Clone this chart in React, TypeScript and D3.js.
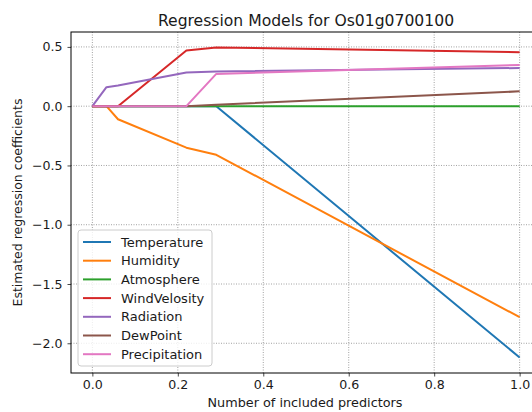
import { useEffect, useRef } from 'react';
import * as d3 from 'd3';

// share of included predictors (x positions of the path knots)
const steps = [0, 0.033, 0.06, 0.22, 0.29, 1.0];

const temperature = [0, 0, 0, 0, 0, -2.12];
const humidity = [0, 0, -0.11, -0.35, -0.41, -1.78];
const atmosphere = [0, 0, 0, 0, 0, 0];
const windVelosity = [0, 0, 0, 0.47, 0.495, 0.455];
const radiation = [0, 0.16, 0.175, 0.285, 0.292, 0.322];
const dewPoint = [0, 0, 0, 0, 0.012, 0.125];
const precipitation = [0, 0, 0, 0, 0.272, 0.348];

const seriesNames = ['Temperature', 'Humidity', 'Atmosphere', 'WindVelosity', 'Radiation', 'DewPoint', 'Precipitation'];
const seriesValues = [temperature, humidity, atmosphere, windVelosity, radiation, dewPoint, precipitation];
const colors = ['#1f77b4', '#ff7f0e', '#2ca02c', '#d62728', '#9467bd', '#8c564b', '#e377c2'];

const xTicks = [0, 0.2, 0.4, 0.6, 0.8, 1.0];
const yTicks = [0.5, 0, -0.5, -1.0, -1.5, -2.0];

const App = () => {
    const svgRef = useRef<SVGSVGElement>(null);

    useEffect(() => {
        const width = 532;
        const height = 412;
        const margin = { top: 32, left: 71 };
        const plotW = 470;
        const plotH = 341;

        const svg = d3.select(svgRef.current);
        svg.selectAll('*').remove();

        const font = 'DejaVu Sans, sans-serif';
        const textColor = '#1a1a1a';

        // ====== SCALES ======
        const x = d3.scaleLinear().domain([-0.05, 1.05]).range([margin.left, margin.left + plotW]);

        const allVals = seriesValues.flat();
        const yMin = d3.min(allVals) as number;
        const yMax = d3.max(allVals) as number;
        const pad = (yMax - yMin) * 0.05;
        const y = d3.scaleLinear().domain([yMin - pad, yMax + pad]).range([margin.top + plotH, margin.top]);

        // ====== GRID ======
        const grid = svg.append('g');
        grid.selectAll('.gx')
            .data(xTicks)
            .enter()
            .append('line')
            .attr('x1', (d) => x(d))
            .attr('x2', (d) => x(d))
            .attr('y1', margin.top)
            .attr('y2', margin.top + plotH)
            .attr('stroke', '#8a8a8a')
            .attr('stroke-width', 0.8)
            .attr('stroke-dasharray', '1,1.5');
        grid.selectAll('.gy')
            .data(yTicks)
            .enter()
            .append('line')
            .attr('x1', margin.left)
            .attr('x2', margin.left + plotW)
            .attr('y1', (d) => y(d))
            .attr('y2', (d) => y(d))
            .attr('stroke', '#8a8a8a')
            .attr('stroke-width', 0.8)
            .attr('stroke-dasharray', '1,1.5');

        // ====== LINES ======
        const line = d3
            .line<number>()
            .x((_, i) => x(steps[i]))
            .y((d) => y(d));

        svg.selectAll('.series')
            .data(seriesValues)
            .enter()
            .append('path')
            .attr('d', (d) => line(d))
            .attr('fill', 'none')
            .attr('stroke', (_, i) => colors[i])
            .attr('stroke-width', 2)
            .attr('stroke-linejoin', 'round');

        // ====== AXES ======
        const fmt = (d: number) => d3.format('.1f')(d).replace('-', '\u2212');

        const xAxis = svg.append('g')
            .attr('transform', `translate(0,${margin.top + plotH})`)
            .call(d3.axisBottom(x).tickValues(xTicks).tickFormat((d) => fmt(d as number)).tickSize(3.5).tickPadding(4));
        const yAxis = svg.append('g')
            .attr('transform', `translate(${margin.left},0)`)
            .call(d3.axisLeft(y).tickValues(yTicks).tickFormat((d) => fmt(d as number)).tickSize(3.5).tickPadding(5));

        [xAxis, yAxis].forEach((ax) => {
            ax.select('.domain').remove();
            ax.selectAll('line').attr('stroke', textColor).attr('stroke-width', 0.8);
            ax.selectAll('text').attr('font-family', font).attr('font-size', 12.6).attr('fill', textColor);
        });

        // frame
        svg.append('rect')
            .attr('x', margin.left)
            .attr('y', margin.top)
            .attr('width', plotW)
            .attr('height', plotH)
            .attr('fill', 'none')
            .attr('stroke', '#000')
            .attr('stroke-width', 1);

        // ====== TEXT ======
        svg.append('text')
            .attr('x', 306)
            .attr('y', 25.5)
            .attr('text-anchor', 'middle')
            .attr('font-family', font)
            .attr('font-size', 15.6)
            .attr('fill', textColor)
            .text('Regression Models for Os01g0700100');

        svg.append('text')
            .attr('x', 305)
            .attr('y', 407)
            .attr('text-anchor', 'middle')
            .attr('font-family', font)
            .attr('font-size', 12.8)
            .attr('fill', textColor)
            .text('Number of included predictors');

        svg.append('text')
            .attr('transform', `translate(22,${margin.top + plotH / 2}) rotate(-90)`)
            .attr('text-anchor', 'middle')
            .attr('font-family', font)
            .attr('font-size', 12.5)
            .attr('fill', textColor)
            .text('Estimated regression coefficients');

        // ====== LEGEND ======
        const legend = svg.append('g').attr('transform', 'translate(78,230)');
        legend.append('rect')
            .attr('width', 134)
            .attr('height', 136)
            .attr('rx', 3)
            .attr('fill', 'rgba(255,255,255,0.8)')
            .attr('stroke', '#cccccc');

        const rows = legend.selectAll('.row')
            .data(seriesNames)
            .enter()
            .append('g')
            .attr('transform', (_, i) => `translate(0,${12 + i * 18.7})`);
        rows.append('line')
            .attr('x1', 5)
            .attr('x2', 33)
            .attr('stroke', (_, i) => colors[i])
            .attr('stroke-width', 2);
        rows.append('text')
            .attr('x', 43)
            .attr('y', 4.6)
            .attr('font-family', font)
            .attr('font-size', 13)
            .attr('fill', textColor)
            .text((d) => d);

        svg.attr('width', width).attr('height', height);
    }, []);

    return (
        <div style={{ position: 'absolute', left: 0, top: 0, background: '#fff' }}>
            <svg ref={svgRef} style={{ display: 'block' }}></svg>
        </div>
    );
};

export default App;
